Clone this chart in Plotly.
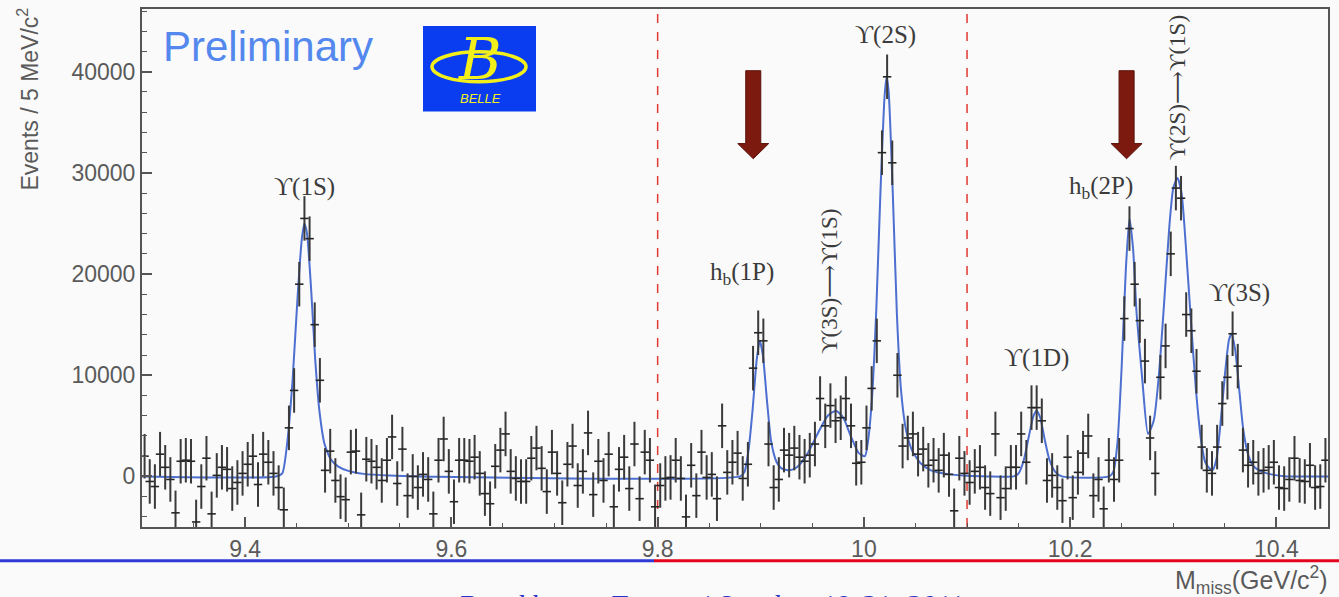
import numpy as np
import plotly.graph_objects as go

# ---------------- data ----------------
BIN_START = 9.30
BIN_WIDTH = 0.005
EVENTS = [
    2000, -500, -1000, 2200, 900, -300, -3600, 1500, 1600, 1500,
    -4500, -1000, 1800, -3700, 100, 900, 700, -1200, -600, 300,
    1200, 2000, -800, 2200, 1400, 300, -1100, -3300, 4800, 8500,
    19000, 25500, 23500, 15000, 9500, 600, 2500, -400, -2000, -2300,
    2400, 2500, -3800, 1700, 1500, 900, -400, 1600, 3900, -700,
    2700, -1900, 0, -1100, 200, -300, -3700, 1600, 3700, 500,
    -2500, 1600, 1600, 1500, 1900, 300, -1700, -2700, 1000, 2600,
    4200, 500, -200, -500, -500, 1800, 2800, 800, -1500, 2400,
    300, -2600, 1200, 3000, -900, 500, 4300, -1800, 1500, -400,
    2200, -3000, 700, 1900, -1200, 3200, -2200, 2400, 1600, -3000,
    -900, -200, -100, 1600, -200, -4000, 1100, -1900, 2400, -100,
    200, -2200, 5000, 400, 1400, 2300, -200, 1200, 10700, 14200,
    13400, 3200, -1100, -300, 2600, 2100, 2800, 1900, 1500, 2100,
    3200, 7700, 5000, 7000, 5500, 5800, 7700, 5000, 1300, 1400,
    4800, 8700, 13400, 32000, 39500, 31000, 10000, 3000, 3800, 4200,
    2200, 2700, 1100, 1600, 600, 2100, 200, -3400, 1800, 300,
    -600, 500, 900, -1100, -1700, 4200, -2100, -1200, 900, 900,
    4200, 1400, 6800, 6800, 5500, -400, 100, -1100, -2400, 1900,
    -2100, 400, 2300, 4000, -1900, -300, -3200, 1600, -300, 1600,
    15600, 24500, 19000, 15400, 11400, 3800, 300, 9800, 12900, 22000,
    28500, 27500, 16000, 14400, 10400, 2900, 600, 300, 2900, 7200,
    9800, 14100, 10900, 2600, 1100, 1400, 300, 600, 900, 1400,
    -1100, -1200, -300, 1800, -400, -500, 1100, -1100, -1000, 1600,
]
ERR = 2200  # typical statistical error per bin

FIT_M = [9.300, 9.430, 9.436, 9.441, 9.446, 9.451, 9.455, 9.4575, 9.460, 9.464,
         9.468, 9.472, 9.477, 9.483, 9.490, 9.500, 9.515, 9.540, 9.570, 9.880,
         9.884, 9.888, 9.892, 9.896, 9.899, 9.902, 9.906, 9.910, 9.915, 9.920,
         9.928, 9.935, 9.945, 9.955, 9.965, 9.973, 9.980, 9.988, 9.995, 10.001,
         10.004, 10.008, 10.012, 10.016, 10.020, 10.022, 10.024, 10.028, 10.032, 10.036,
         10.041, 10.047, 10.055, 10.065, 10.080, 10.100, 10.120, 10.145, 10.150, 10.155,
         10.160, 10.1645, 10.1675, 10.171, 10.175, 10.180, 10.186, 10.192, 10.238, 10.242,
         10.246, 10.250, 10.254, 10.2575, 10.261, 10.2645, 10.270, 10.2755, 10.281, 10.286,
         10.291, 10.296, 10.300, 10.304, 10.308, 10.312, 10.317, 10.322, 10.327, 10.331,
         10.335, 10.338, 10.342, 10.346, 10.350, 10.354, 10.3565, 10.360, 10.364, 10.368,
         10.373, 10.378, 10.385, 10.395, 10.410, 10.450]
FIT_V = [0, 0, 300, 3500, 9500, 18000, 23500, 25000, 24000, 18500,
         11500, 6500, 3200, 1700, 1000, 550, 250, 80, 0, 0,
         400, 2500, 6500, 11500, 13400, 12000, 7500, 3500, 1500, 800,
         600, 900, 2200, 4200, 6000, 6500, 5800, 3800, 2300, 2000,
         3500, 8000, 16500, 28000, 37500, 39500, 38000, 28000, 16000, 8500,
         4500, 2500, 1300, 600, 250, 60, 0, 0, 300, 1600,
         4000, 6000, 6500, 5800, 3800, 1600, 400, 0, 0, 500,
         3500, 11000, 20500, 25500, 22500, 16000, 9500, 4200, 5500, 10000,
         17000, 24500, 28500, 29500, 28000, 23000, 15500, 8500, 3500, 1400,
         800, 600, 1800, 5500, 10000, 13500, 14100, 12500, 8500, 4500,
         2000, 1000, 500, 200, 0, 0]

SIGNAL_REGION = [9.8, 10.1]
ARROW_X = [9.8927, 10.2547]
ARROW_TOP, ARROW_NECK, ARROW_TIP = 40100, 32900, 31400

PEAK_LABELS = [
    ("ϒ(1S)", 9.458, 28570, 0, 25),
    ("ϒ(2S)", 10.021, 43640, 0, 25),
    ("h<sub>b</sub>(1P)", 9.8816, 20100, 0, 25),
    ("ϒ(3S)⟶ϒ(1S)", 9.966, 19300, -90, 23),
    ("ϒ(1D)", 10.1675, 11700, 0, 25),
    ("h<sub>b</sub>(2P)", 10.2295, 28570, 0, 25),
    ("ϒ(2S)⟶ϒ(1S)", 10.304, 38400, -90, 23),
    ("ϒ(3S)", 10.364, 18100, 0, 25),
]

X_RANGE = [9.30, 10.45]
Y_RANGE = [-5000, 46200]

# ---------------- figure ----------------
W, H = 1339, 597
ML, MR, MT, MB = 142, 11, 7, 70
PW, PH = W - ML - MR, H - MT - MB


def px(x):
    return (x - ML) / PW


def py(y):
    return (H - MB - y) / PH


centers = BIN_START + BIN_WIDTH * (np.arange(len(EVENTS)) + 0.5)

fig = go.Figure()

fig.add_trace(go.Scatter(
    x=FIT_M, y=FIT_V, mode="lines",
    line=dict(color="#4c6fd0", width=2, shape="spline", smoothing=0.6),
    hoverinfo="skip", showlegend=False,
))

fig.add_trace(go.Scatter(
    x=centers, y=EVENTS, mode="markers",
    marker=dict(symbol="line-ew", size=6, line=dict(color="#262626", width=1.6)),
    error_y=dict(type="constant", value=ERR, width=0, thickness=2, color="#3a3a3a"),
    showlegend=False,
))

shapes = []
for xv in SIGNAL_REGION:
    shapes.append(dict(type="line", xref="x", yref="paper", x0=xv, x1=xv, y0=0, y1=1,
                       line=dict(color="#e23a32", width=1.5, dash="dash"), layer="below"))

SHAFT_HW, HEAD_HW = 0.0073, 0.0150
for ax in ARROW_X:
    path = (f"M {ax - SHAFT_HW} {ARROW_TOP} L {ax + SHAFT_HW} {ARROW_TOP} "
            f"L {ax + SHAFT_HW} {ARROW_NECK} L {ax + HEAD_HW} {ARROW_NECK} "
            f"L {ax} {ARROW_TIP} L {ax - HEAD_HW} {ARROW_NECK} "
            f"L {ax - SHAFT_HW} {ARROW_NECK} Z")
    shapes.append(dict(type="path", xref="x", yref="y", path=path,
                       fillcolor="#7d1a10", line=dict(color="#5c120a", width=1)))

# Belle logo
shapes.append(dict(type="rect", xref="paper", yref="paper",
                   x0=px(423), x1=px(536), y0=py(110), y1=py(24),
                   fillcolor="#0a3df0", line=dict(width=0)))
shapes.append(dict(type="circle", xref="paper", yref="paper",
                   x0=px(432), x1=px(526), y0=py(80), y1=py(50),
                   line=dict(color="#f3ef1a", width=3.5), fillcolor="rgba(0,0,0,0)"))

# bottom slide bar
shapes.append(dict(type="line", xref="paper", yref="paper", x0=px(0), x1=px(654),
                   y0=py(561), y1=py(561), line=dict(color="#2f3ad6", width=3)))
shapes.append(dict(type="line", xref="paper", yref="paper", x0=px(654), x1=px(1339),
                   y0=py(561), y1=py(561), line=dict(color="#e3061c", width=3)))

annotations = []
for text, xv, yv, ang, fs in PEAK_LABELS:
    annotations.append(dict(text=text, x=xv, y=yv, xref="x", yref="y", showarrow=False,
                            textangle=ang, xanchor="center", yanchor="middle",
                            font=dict(family="Liberation Serif, DejaVu Serif, serif",
                                      size=fs, color="#3c3c3c")))

annotations.append(dict(text="Preliminary", x=px(161), y=py(45), xref="paper", yref="paper",
                        xanchor="left", yanchor="middle", showarrow=False,
                        font=dict(family="Liberation Sans, Arial, sans-serif", size=42,
                                  color="#5488ee")))
annotations.append(dict(text="<i>B</i>", x=px(480), y=py(57), xref="paper", yref="paper",
                        xanchor="center", yanchor="middle", showarrow=False,
                        font=dict(family="DejaVu Serif, serif", size=58, color="#f3ef1a")))
annotations.append(dict(text="<i>BELLE</i>", x=px(480), y=py(97), xref="paper", yref="paper",
                        xanchor="center", yanchor="middle", showarrow=False,
                        font=dict(family="Liberation Sans Narrow, Liberation Sans, sans-serif",
                                  size=13, color="#f3ef1a")))

annotations.append(dict(text="Events / 5 MeV/c<sup>2</sup>", x=px(28), y=py(4),
                        xref="paper", yref="paper", xanchor="center", yanchor="top",
                        textangle=-90, showarrow=False,
                        font=dict(family="Liberation Sans, Arial, sans-serif", size=23,
                                  color="#5a5a5a")))
annotations.append(dict(text="M<sub>miss</sub>(GeV/c<sup>2</sup>)", x=px(1330), y=py(580),
                        xref="paper", yref="paper", xanchor="right", yanchor="middle",
                        showarrow=False,
                        font=dict(family="Liberation Sans, Arial, sans-serif", size=25,
                                  color="#5a5a5a")))
annotations.append(dict(text="<i>Brookhaven Forum / October 19-21, 2011</i>", x=px(710),
                        y=py(586), xref="paper", yref="paper", xanchor="center", yanchor="top",
                        showarrow=False,
                        font=dict(family="Liberation Serif, serif", size=30, color="#2434c8")))

fig.update_layout(
    width=W, height=H, autosize=False,
    margin=dict(l=ML, r=MR, t=MT, b=MB, pad=0),
    paper_bgcolor="#fafafa", plot_bgcolor="#fafafa",
    shapes=shapes, annotations=annotations, showlegend=False,
)

fig.update_xaxes(
    range=X_RANGE, showgrid=False, zeroline=False,
    showline=True, mirror=True, linecolor="#555555", linewidth=2,
    ticks="inside", ticklen=10, tickwidth=1.5, tickcolor="#555555",
    tick0=9.4, dtick=0.2, tickformat="~g",
    tickfont=dict(family="Liberation Sans, Arial, sans-serif", size=23, color="#5a5a5a"),
    minor=dict(ticks="inside", ticklen=4, tickwidth=1.2, tickcolor="#555555", dtick=0.05,
               tick0=9.3, showgrid=False),
)
fig.update_yaxes(
    range=Y_RANGE, showgrid=False, zeroline=False,
    showline=True, mirror=True, linecolor="#555555", linewidth=2,
    ticks="inside", ticklen=10, tickwidth=1.5, tickcolor="#555555",
    tick0=0, dtick=10000, tickformat="d",
    tickfont=dict(family="Liberation Sans, Arial, sans-serif", size=23, color="#5a5a5a"),
    minor=dict(ticks="inside", ticklen=5, tickwidth=1.2, tickcolor="#555555", dtick=2000,
               tick0=0, showgrid=False),
)

fig.write_html("out.html", config={"displayModeBar": False},
               post_script="document.body.style.margin='0px';document.body.style.background='#fafafa';")
